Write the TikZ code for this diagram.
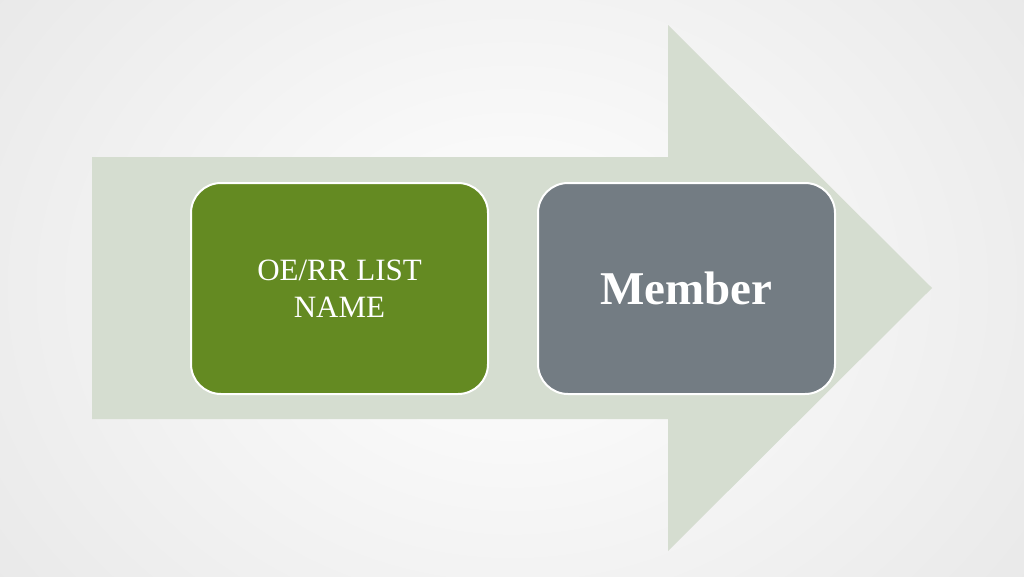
\documentclass[tikz,border=0pt]{standalone}
\usepackage{fontspec}
\setmainfont{Liberation Serif}
\definecolor{sage}{HTML}{D5DDD0}
\definecolor{leaf}{HTML}{648A22}
\definecolor{slate}{HTML}{737C83}
\begin{document}
\begin{tikzpicture}
  [x=1pt,y=-1pt,
   box/.style={draw=white,line width=2pt,rounded corners=30pt,minimum width=297pt,minimum height=211pt,
     inner sep=0pt,align=center,text=white,anchor=north west},]

  % background and big arrow
  \useasboundingbox (0,0) rectangle (1024,576);
  \begin{scope}
    \clip (0,0) rectangle (1024,576);
    \fill[black!9] (0,0) rectangle (1024,576);
    \shade[inner color=white,outer color=black!9] (-150,-250) rectangle (1174,826);
  \end{scope}
  \fill[sage] (92,157) -- (668,157) -- (668,25) -- (932,288) -- (668,551) -- (668,419) -- (92,419) -- cycle;

  \node[box,fill=leaf,font=\fontsize{31}{37}\selectfont] (list) at (190,182) {OE/RR LIST\\NAME};
  \node[box,fill=slate,font=\fontsize{47}{52}\selectfont\bfseries] (member) at (537,182) {Member};
\end{tikzpicture}
\end{document}
